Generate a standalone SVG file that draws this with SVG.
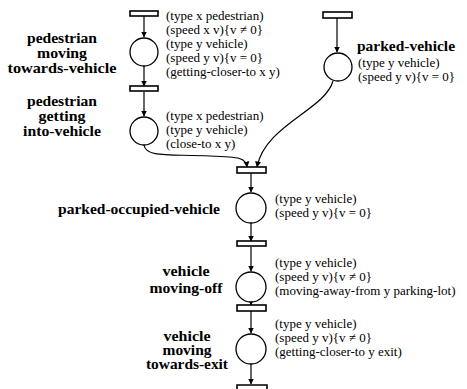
<svg xmlns="http://www.w3.org/2000/svg" width="467" height="389" viewBox="0 0 467 389">
<defs>
<marker id="ah" markerWidth="6" markerHeight="8" refX="5.5" refY="4" orient="auto" markerUnits="userSpaceOnUse">
<path d="M0,1 L6,4 L0,7 Z" fill="#000"/>
</marker>
<style>
.bar{fill:#fff;stroke:#000;stroke-width:1.6}
.pl{fill:#fff;stroke:#000;stroke-width:1.3}
.e{fill:none;stroke:#000;stroke-width:1.2;marker-end:url(#ah)}
.lb{font-family:"Liberation Serif","Times New Roman",serif;font-weight:bold;font-size:14px;text-anchor:middle;fill:#000}
.tx{font-family:"Liberation Serif","Times New Roman",serif;font-size:13px;fill:#000}
</style>
</defs>
<rect width="467" height="389" fill="#fff"/>
<g id="connectors">
<path class="e" d="M144,16 V37"/>
<path class="e" d="M144,66 V86"/>
<path class="e" d="M144,92 V116"/>
<path class="e" d="M337,18 V52"/>
<path class="e" d="M144,145 C146,158 170,154 210,156 C240,157 246,158 247,167"/>
<path class="e" d="M333,81 C325,110 265,125 257,167"/>
<path class="e" d="M251,173 V192"/>
<path class="e" d="M251,223 V241"/>
<path class="e" d="M251,247 V271"/>
<path class="e" d="M251,302 V305"/>
<path class="e" d="M251,311 V333"/>
<path class="e" d="M251,364 V384"/>
</g>
<g id="t1"><rect class="bar" x="130" y="11" width="28" height="5"/></g>
<g id="t2"><rect class="bar" x="130" y="86" width="28" height="5"/></g>
<g id="t3"><rect class="bar" x="323" y="12" width="29" height="6"/></g>
<g id="t4"><rect class="bar" x="237" y="167" width="29" height="6"/></g>
<g id="t5"><rect class="bar" x="237" y="241" width="29" height="5"/></g>
<g id="t6"><rect class="bar" x="237" y="305" width="29" height="6"/></g>
<g id="t7"><path d="M237,392 V385 H267 V392" fill="none" stroke="#000" stroke-width="1.6"/></g>
<g id="p1">
<circle class="pl" cx="144" cy="52" r="14"/>
<text class="lb" x="62" y="43" textLength="70" lengthAdjust="spacingAndGlyphs">pedestrian</text>
<text class="lb" x="62" y="58" textLength="50" lengthAdjust="spacingAndGlyphs">moving</text>
<text class="lb" x="62" y="73" textLength="109" lengthAdjust="spacingAndGlyphs">towards-vehicle</text>
<text class="tx" x="166" y="20">(type x pedestrian)</text>
<text class="tx" x="166" y="34">(speed x v){v ≠ 0}</text>
<text class="tx" x="166" y="48">(type y vehicle)</text>
<text class="tx" x="166" y="62">(speed y  v){v = 0}</text>
<text class="tx" x="166" y="76">(getting-closer-to x y)</text>
</g>
<g id="p2">
<circle class="pl" cx="144" cy="131" r="14"/>
<text class="lb" x="62" y="106" textLength="70" lengthAdjust="spacingAndGlyphs">pedestrian</text>
<text class="lb" x="62" y="121" textLength="47" lengthAdjust="spacingAndGlyphs">getting</text>
<text class="lb" x="62" y="136" textLength="78" lengthAdjust="spacingAndGlyphs">into-vehicle</text>
<text class="tx" x="166" y="120">(type x pedestrian)</text>
<text class="tx" x="166" y="134">(type y vehicle)</text>
<text class="tx" x="166" y="148">(close-to x y)</text>
</g>
<g id="p3">
<circle class="pl" cx="338" cy="67" r="14"/>
<text class="lb" x="406" y="51" textLength="98" lengthAdjust="spacingAndGlyphs">parked-vehicle</text>
<text class="tx" x="358" y="67">(type y vehicle)</text>
<text class="tx" x="358" y="81">(speed y v){v = 0}</text>
</g>
<g id="p4">
<circle class="pl" cx="251" cy="208" r="15"/>
<text class="lb" x="139" y="214" textLength="162" lengthAdjust="spacingAndGlyphs">parked-occupied-vehicle</text>
<text class="tx" x="275" y="203">(type y vehicle)</text>
<text class="tx" x="275" y="217">(speed y v){v = 0}</text>
</g>
<g id="p5">
<circle class="pl" cx="251" cy="287" r="15"/>
<text class="lb" x="186" y="276" textLength="47" lengthAdjust="spacingAndGlyphs">vehicle</text>
<text class="lb" x="186" y="293" textLength="73" lengthAdjust="spacingAndGlyphs">moving-off</text>
<text class="tx" x="275" y="267">(type y vehicle)</text>
<text class="tx" x="275" y="281">(speed y v){v ≠ 0}</text>
<text class="tx" x="275" y="295">(moving-away-from y parking-lot)</text>
</g>
<g id="p6">
<circle class="pl" cx="251" cy="349" r="15"/>
<text class="lb" x="187" y="341" textLength="47" lengthAdjust="spacingAndGlyphs">vehicle</text>
<text class="lb" x="187" y="355" textLength="49" lengthAdjust="spacingAndGlyphs">moving</text>
<text class="lb" x="187" y="369" textLength="82" lengthAdjust="spacingAndGlyphs">towards-exit</text>
<text class="tx" x="275" y="328">(type y vehicle)</text>
<text class="tx" x="275" y="342">(speed y v){v ≠ 0}</text>
<text class="tx" x="275" y="356">(getting-closer-to y exit)</text>
</g>
</svg>
